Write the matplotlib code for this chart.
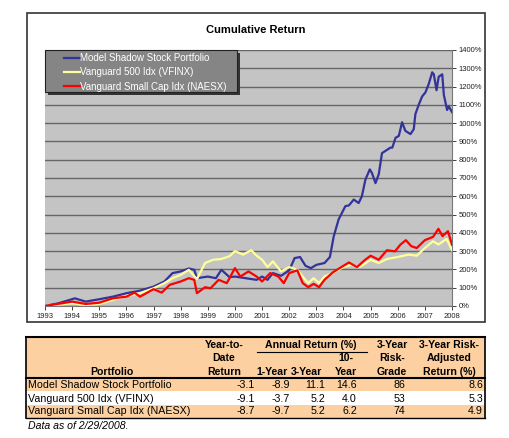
import matplotlib
matplotlib.use('Agg')
import matplotlib.pyplot as plt
from matplotlib.patches import Rectangle

plt.rcParams['font.family'] = ['Liberation Sans', 'DejaVu Sans']

# cumulative return (%)
shadow_yr = [1993.0, 1993.5, 1994.1, 1994.5, 1995.0, 1995.5, 1996.0, 1996.5, 1997.0, 1997.4,
             1997.7, 1998.0, 1998.3, 1998.5, 1998.6, 1999.0, 1999.3, 1999.5, 1999.8, 2000.0,
             2000.4, 2000.8, 2001.0, 2001.2, 2001.4, 2001.7, 2002.0, 2002.2, 2002.4, 2002.6,
             2002.8, 2003.0, 2003.3, 2003.5, 2003.64, 2003.82, 2004.07, 2004.2, 2004.38, 2004.56,
             2004.68, 2004.81, 2004.97, 2005.05, 2005.18, 2005.3, 2005.42, 2005.73, 2005.8, 2005.92,
             2006.04, 2006.16, 2006.28, 2006.47, 2006.59, 2006.65, 2006.78, 2006.9, 2007.02, 2007.14,
             2007.27, 2007.33, 2007.43, 2007.51, 2007.64, 2007.7, 2007.82, 2007.88, 2008.0]
shadow = [0, 15, 42, 24, 37, 51, 70, 84, 106, 134,
          180, 189, 205, 198, 152, 161, 152, 198, 158, 161,
          152, 143, 161, 143, 180, 165, 195, 262, 268, 220,
          207, 225, 235, 268, 380, 473, 546, 550, 582, 563,
          601, 692, 747, 727, 672, 720, 836, 866, 866, 920,
          930, 1005, 958, 940, 967, 1049, 1103, 1146, 1168, 1213,
          1278, 1267, 1180, 1254, 1267, 1154, 1072, 1092, 1060]

vfinx_yr = [1993.0, 1994.0, 1994.5, 1995.0, 1995.5, 1996.0, 1996.5, 1997.0, 1997.4, 1997.7,
            1998.0, 1998.3, 1998.6, 1998.9, 1999.2, 1999.5, 1999.8, 2000.0, 2000.3, 2000.6,
            2000.8, 2001.0, 2001.2, 2001.4, 2001.7, 2002.0, 2002.3, 2002.5, 2002.7, 2002.9,
            2003.1, 2003.3, 2003.6, 2004.0, 2004.3, 2004.6, 2005.0, 2005.3, 2005.6, 2006.0,
            2006.4, 2006.7, 2007.0, 2007.3, 2007.5, 2007.8, 2008.0]
vfinx = [0, 15, 5, 11, 33, 55, 70, 97, 125, 152,
         170, 198, 147, 235, 253, 257, 272, 300, 281, 305,
         275, 253, 213, 244, 189, 213, 198, 161, 125, 152,
         125, 161, 180, 213, 226, 213, 253, 235, 257, 268,
         281, 275, 317, 354, 336, 367, 305]

naesx_yr = [1993.0, 1994.0, 1994.5, 1995.0, 1995.5, 1996.0, 1996.3, 1996.5, 1997.0, 1997.3,
            1997.6, 1998.0, 1998.3, 1998.5, 1998.6, 1998.9, 1999.1, 1999.4, 1999.7, 2000.0,
            2000.2, 2000.5, 2000.8, 2001.0, 2001.3, 2001.6, 2001.8, 2002.0, 2002.3, 2002.5,
            2002.7, 2002.9, 2003.1, 2003.3, 2003.6, 2004.0, 2004.2, 2004.5, 2004.8, 2005.0,
            2005.3, 2005.6, 2005.9, 2006.1, 2006.3, 2006.5, 2006.7, 2007.0, 2007.3, 2007.5,
            2007.65, 2007.85, 2008.0]
naesx = [0, 24, 11, 18, 42, 51, 73, 51, 92, 73,
         116, 134, 152, 143, 70, 103, 97, 143, 125, 207,
         161, 189, 161, 134, 180, 161, 125, 180, 195, 125,
         103, 121, 103, 143, 183, 220, 238, 213, 253, 275,
         253, 305, 299, 336, 360, 327, 317, 360, 378, 422,
         382, 409, 336]

series_names = ['Model Shadow Stock Portfolio', 'Vanguard 500 Idx (VFINX)', 'Vanguard Small Cap Idx (NAESX)']
series_colors = ['#333399', '#ffff99', '#ff0000']
years = list(range(1993, 2009))
pct_ticks = list(range(0, 1500, 100))

# table
table_rows = ['Model Shadow Stock Portfolio', 'Vanguard 500 Idx (VFINX)', 'Vanguard Small Cap Idx (NAESX)']
ytd = ['-3.1', '-9.1', '-8.7']
one_year = ['-8.9', '-3.7', '-9.7']
three_year = ['11.1', '5.2', '5.2']
ten_year = ['14.6', '4.0', '6.2']
risk_grade = ['86', '53', '74']
risk_adj = ['8.6', '5.3', '4.9']

W, H = 510, 438
fig = plt.figure(figsize=(W / 100, H / 100), dpi=100)


def pixel_axes(z):
    a = fig.add_axes([0, 0, 1, 1], zorder=z)
    a.set_xlim(0, W)
    a.set_ylim(H, 0)
    a.axis('off')
    a.patch.set_visible(False)
    return a


# background layer: chart box and the table
ov = pixel_axes(0)
ov.add_patch(Rectangle((27, 13), 458, 309, facecolor='white', edgecolor='#333333', lw=1.2))

ax = fig.add_axes([45 / W, 1 - 306 / H, 407 / W, 256 / H], zorder=2)
ax.set_facecolor('#c4c4c4')
lines = []
lines += ax.plot(shadow_yr, shadow, color=series_colors[0], lw=1.6, zorder=3)
lines += ax.plot(vfinx_yr, vfinx, color=series_colors[1], lw=1.6, zorder=4)
lines += ax.plot(naesx_yr, naesx, color=series_colors[2], lw=1.6, zorder=5)
ax.set_xlim(1993, 2008)
ax.set_ylim(0, 1400)
ax.set_xticks(years)
ax.set_xticklabels([str(y) for y in years], fontsize=5.5)
ax.yaxis.tick_right()
ax.set_yticks(pct_ticks)
ax.set_yticklabels(['%d%%' % p for p in pct_ticks], fontsize=5.5)
ax.tick_params(length=3, width=0.6, pad=2, colors='#222222')
ax.grid(axis='y', color='#666666', lw=1)
ax.set_axisbelow(True)
for s in ['top', 'left']:
    ax.spines[s].set_visible(False)
ax.spines['bottom'].set_color('#777777')
ax.spines['right'].set_color('#777777')

# legend layer on top: grey box with shadow, entries from a frameless legend
lg = pixel_axes(3)
lg.add_patch(Rectangle((48, 53), 192, 42, facecolor='#333333', edgecolor='none'))
lg.add_patch(Rectangle((45, 50), 192, 42, facecolor='#858585', edgecolor='#222222', lw=0.8))
lg.legend(lines, series_names, loc='upper left', bbox_to_anchor=(62, 51),
          bbox_transform=lg.transData, borderaxespad=0, fontsize=7,
          labelcolor='white', frameon=False, handlelength=1.6, handletextpad=0.1,
          labelspacing=0.45, borderpad=0.2)

fig.text(256 / W, 1 - 30 / H, 'Cumulative Return', ha='center', va='center', fontsize=8, weight='bold')

# table drawing
peach = '#fcd0a0'
ov.add_patch(Rectangle((26, 337), 459, 41, facecolor=peach, edgecolor='none'))
row_tops = [378, 391.5, 404.5]
row_fill = [peach, 'white', peach]
for top, fc in zip(row_tops, row_fill):
    ov.add_patch(Rectangle((26, top), 459, 13.3, facecolor=fc, edgecolor='none'))
ov.plot([26, 485], [337, 337], color='black', lw=1.5)
ov.plot([26, 485], [378, 378], color='black', lw=1.5)
ov.plot([26, 485], [417.5, 417.5], color='black', lw=1)
ov.plot([26, 26], [337, 417.5], color='black', lw=1.2)
ov.plot([485, 485], [337, 417.5], color='black', lw=1.2)

hdr = dict(fontsize=7.6, weight='bold', ha='center', va='center')
ov.text(112, 372, 'Portfolio', **hdr)
ov.text(224, 345, 'Year-to-', **hdr)
ov.text(224, 358, 'Date', **hdr)
ov.text(224, 372, 'Return', **hdr)
ov.text(311, 345, 'Annual Return (%)', **hdr)
ov.plot([257, 367], [351.5, 351.5], color='black', lw=0.8)
ov.text(272, 372, '1-Year', **hdr)
ov.text(306, 372, '3-Year', **hdr)
ov.text(346, 358, '10-', **hdr)
ov.text(346, 372, 'Year', **hdr)
ov.text(392, 345, '3-Year', **hdr)
ov.text(392, 358, 'Risk-', **hdr)
ov.text(392, 372, 'Grade', **hdr)
ov.text(449, 345, '3-Year Risk-', **hdr)
ov.text(449, 358, 'Adjusted', **hdr)
ov.text(449, 372, 'Return (%)', **hdr)

col_right = [255, 290, 325, 357, 405, 483]
row_y = [385.5, 398.5, 411.5]
for i, name in enumerate(table_rows):
    ov.text(28, row_y[i], name, fontsize=7.7, ha='left', va='center')
    vals = [ytd[i], one_year[i], three_year[i], ten_year[i], risk_grade[i], risk_adj[i]]
    for x, v in zip(col_right, vals):
        ov.text(x, row_y[i], v, fontsize=7.7, ha='right', va='center')

ov.text(28, 426, 'Data as of 2/29/2008.', fontsize=7.6, style='italic', ha='left', va='center')

fig.savefig('out.png', dpi=100)
